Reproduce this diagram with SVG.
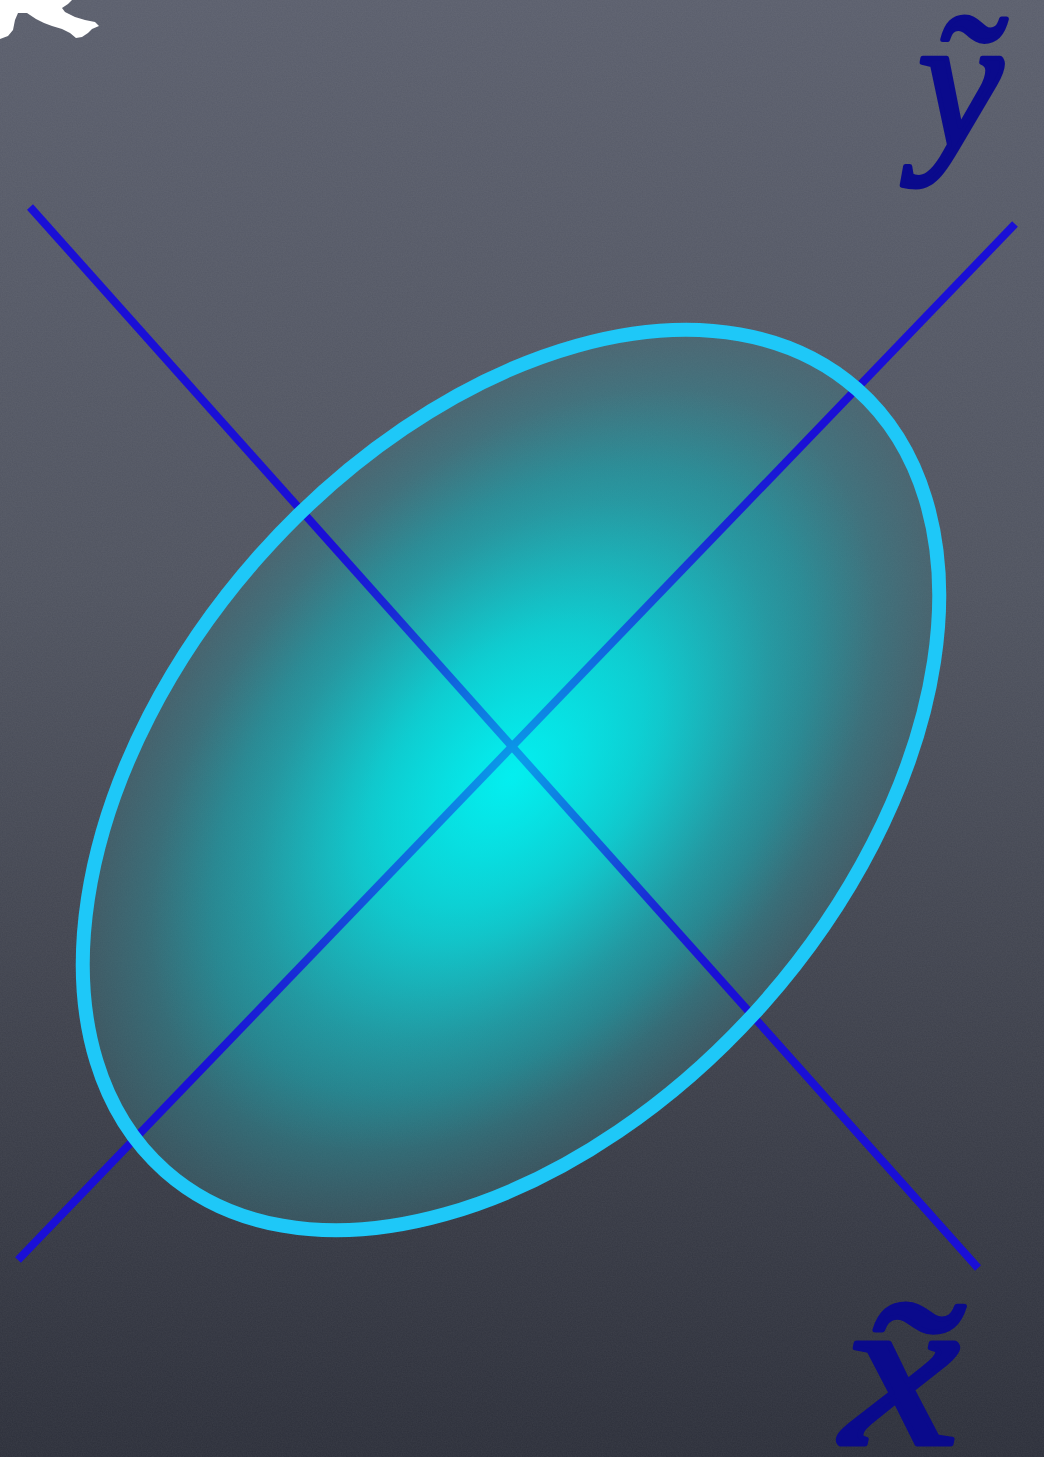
<svg xmlns="http://www.w3.org/2000/svg" width="1044" height="1457" viewBox="0 0 1044 1457">
  <style>
    .axis { stroke: #1a0fd6; stroke-width: 8; stroke-linecap: butt; fill: none; }
    .lbl { font-family: "Liberation Serif", "DejaVu Serif", serif; font-style: italic; fill: #0a0a8c; stroke: #0a0a8c; stroke-width: 5; stroke-linejoin: round; }
  </style>
  <defs>
    <linearGradient id="bg" x1="0" y1="0" x2="0" y2="1">
      <stop offset="0" stop-color="#5a5e6c"/>
      <stop offset="0.4" stop-color="#4f535f"/>
      <stop offset="0.75" stop-color="#3b3e49"/>
      <stop offset="1" stop-color="#2c2f3a"/>
    </linearGradient>
    <radialGradient id="glow" cx="0.5" cy="0.5" r="0.5">
      <stop offset="0" stop-color="#08e4e6" stop-opacity="1"/>
      <stop offset="0.35" stop-color="#14c0c6" stop-opacity="0.92"/>
      <stop offset="0.7" stop-color="#1f9aa4" stop-opacity="0.7"/>
      <stop offset="1" stop-color="#3a7c86" stop-opacity="0.35"/>
    </radialGradient>
    <radialGradient id="hi" cx="0.5" cy="0.5" r="0.5">
      <stop offset="0" stop-color="#00f6f6" stop-opacity="0.62"/>
      <stop offset="0.3" stop-color="#00eaea" stop-opacity="0.4"/>
      <stop offset="0.6" stop-color="#10d0d4" stop-opacity="0.12"/>
      <stop offset="0.85" stop-color="#10d0d4" stop-opacity="0"/>
    </radialGradient>
    <filter id="chalk" x="0" y="0" width="100%" height="100%">
      <feTurbulence type="fractalNoise" baseFrequency="0.8" numOctaves="2" seed="3"/>
      <feColorMatrix type="matrix" values="0 0 0 0 1  0 0 0 0 1  0 0 0 0 1  0 0 0 0.06 0"/>
    </filter>
  </defs>

  <g id="background">
    <rect width="1044" height="1457" fill="url(#bg)"/>
    <rect width="1044" height="1457" filter="url(#chalk)"/>
    <path id="chalk-mark" fill="#ffffff" d="M0 0 L72 0 L68 4 L62 8 L65 12 L75 17 L85 20 L95 22 L99 26 L92 29 L88 33 L82 37 L76 38 L70 33 L62 29 L52 26 L44 23 L36 19 L27 13 L18 13 L15 20 L13 30 L8 36 L0 39 Z"/>
  </g>

  <g id="ellipse-fill">
    <ellipse cx="0" cy="0" rx="522" ry="337" transform="translate(511 780) rotate(-48.5)" fill="url(#glow)"/>
  </g>

  <g id="connectors">
    <line class="axis" x1="30" y1="207" x2="978" y2="1268"/>
    <line class="axis" x1="18" y1="1260" x2="1015" y2="224"/>
  </g>

  <g id="ellipse-node">
    <ellipse cx="0" cy="0" rx="522" ry="337" transform="translate(513 770) rotate(-48.5)" fill="url(#hi)"/>
    <ellipse cx="0" cy="0" rx="522" ry="337" transform="translate(511 780) rotate(-48.5)" fill="none" stroke="#1ec8f8" stroke-width="14"/>
  </g>

  <g id="label-y">
    <text class="lbl" x="918" y="146" font-size="190">ỹ</text>
  </g>
  <g id="label-x">
    <text class="lbl" transform="translate(842 1444) scale(1.2 1)" font-size="220">x̃</text>
  </g>
</svg>
